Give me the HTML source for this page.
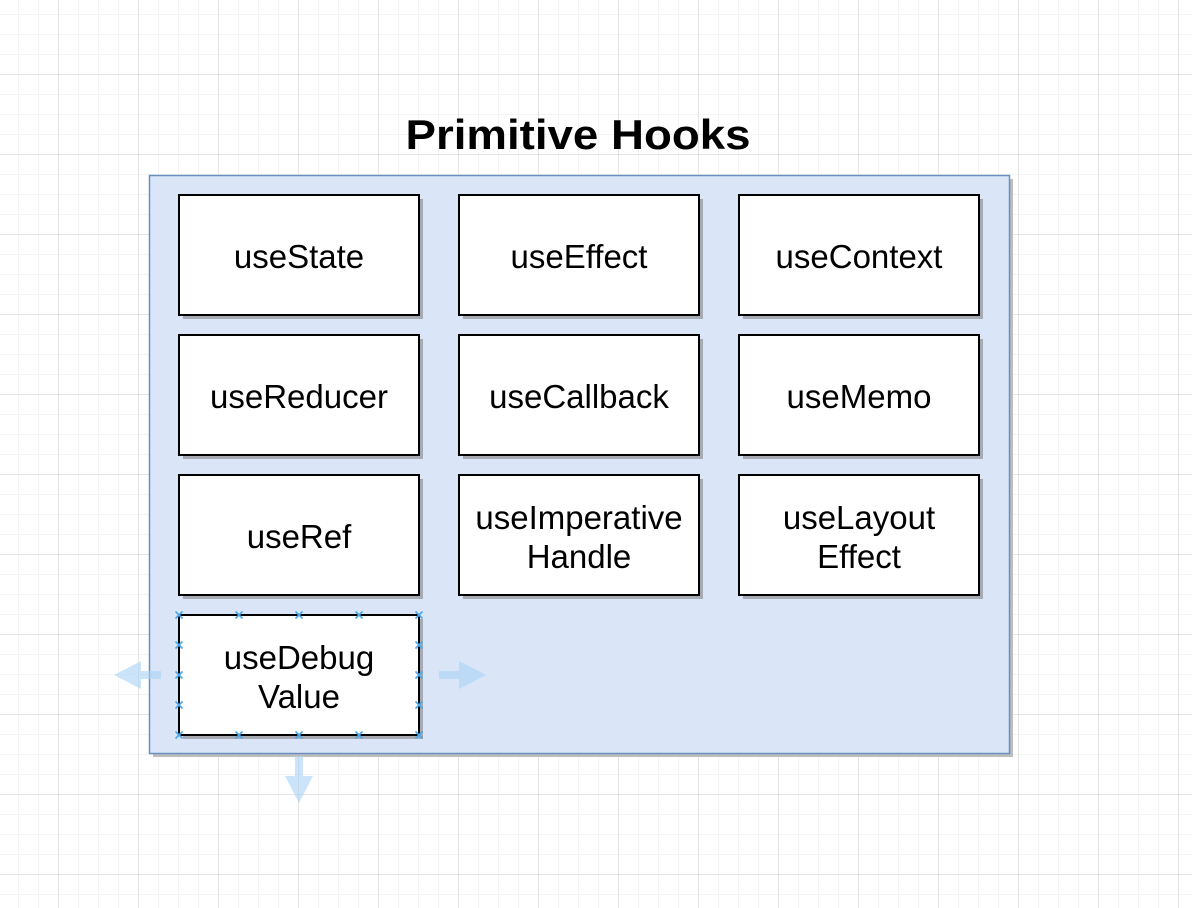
<!DOCTYPE html>
<html><head><meta charset="utf-8"><style>
html,body{margin:0;padding:0;background:#fff;}
svg{display:block;}
text{font-family:"Liberation Sans",Arial,sans-serif;}
</style></head><body>
<svg width="1192" height="908" viewBox="0 0 1192 908" xmlns="http://www.w3.org/2000/svg">
<defs>
<pattern id="minor" x="18" y="14" width="20" height="20" patternUnits="userSpaceOnUse">
<path d="M0 0H20M0 0V20" stroke="#f0f0f0" stroke-width="1.5" fill="none"/>
</pattern>
<pattern id="major" x="58" y="74" width="80" height="80" patternUnits="userSpaceOnUse">
<path d="M0 0H80M0 0V80" stroke="#d0d0d0" stroke-width="1" fill="none"/>
</pattern>
</defs>
<rect width="1192" height="908" fill="url(#minor)"/>
<rect width="1192" height="908" fill="url(#major)"/>

<text x="578" y="149" text-anchor="middle" font-size="42" font-weight="bold" textLength="345" lengthAdjust="spacingAndGlyphs">Primitive Hooks</text>

<rect x="153" y="179" width="860" height="578" fill="#bdbdbd"/>
<rect x="149.5" y="175.5" width="860" height="578" fill="#dae6f8" stroke="#6c8ebf" stroke-width="1.5"/>

<g fill="#a6aab3">
<rect x="183" y="199" width="240" height="120"/><rect x="463" y="199" width="240" height="120"/><rect x="743" y="199" width="240" height="120"/>
<rect x="183" y="339" width="240" height="120"/><rect x="463" y="339" width="240" height="120"/><rect x="743" y="339" width="240" height="120"/>
<rect x="183" y="479" width="240" height="120"/><rect x="463" y="479" width="240" height="120"/><rect x="743" y="479" width="240" height="120"/>
<rect x="183" y="619" width="240" height="120"/>
</g>
<g fill="#fff" stroke="#000" stroke-width="2">
<rect x="179" y="195" width="240" height="120"/><rect x="459" y="195" width="240" height="120"/><rect x="739" y="195" width="240" height="120"/>
<rect x="179" y="335" width="240" height="120"/><rect x="459" y="335" width="240" height="120"/><rect x="739" y="335" width="240" height="120"/>
<rect x="179" y="475" width="240" height="120"/><rect x="459" y="475" width="240" height="120"/><rect x="739" y="475" width="240" height="120"/>
<rect x="179" y="615" width="240" height="120"/>
</g>
<g font-size="33" text-anchor="middle" fill="#000">
<text x="299" y="268">useState</text>
<text x="579" y="268">useEffect</text>
<text x="859" y="268">useContext</text>
<text x="299" y="408">useReducer</text>
<text x="579" y="408">useCallback</text>
<text x="859" y="408">useMemo</text>
<text x="299" y="548">useRef</text>
<text x="579" y="529">useImperative</text>
<text x="579" y="568">Handle</text>
<text x="859" y="529">useLayout</text>
<text x="859" y="568">Effect</text>
<text x="299" y="669">useDebug</text>
<text x="299" y="708">Value</text>
</g>

<g stroke="#4aa8e8" stroke-width="1.6">
<path d="M-3.5 -3.5L3.5 3.5M-3.5 3.5L3.5 -3.5" transform="translate(179,615)"/>
<path d="M-3.5 -3.5L3.5 3.5M-3.5 3.5L3.5 -3.5" transform="translate(239,615)"/>
<path d="M-3.5 -3.5L3.5 3.5M-3.5 3.5L3.5 -3.5" transform="translate(299,615)"/>
<path d="M-3.5 -3.5L3.5 3.5M-3.5 3.5L3.5 -3.5" transform="translate(359,615)"/>
<path d="M-3.5 -3.5L3.5 3.5M-3.5 3.5L3.5 -3.5" transform="translate(419,615)"/>
<path d="M-3.5 -3.5L3.5 3.5M-3.5 3.5L3.5 -3.5" transform="translate(179,735)"/>
<path d="M-3.5 -3.5L3.5 3.5M-3.5 3.5L3.5 -3.5" transform="translate(239,735)"/>
<path d="M-3.5 -3.5L3.5 3.5M-3.5 3.5L3.5 -3.5" transform="translate(299,735)"/>
<path d="M-3.5 -3.5L3.5 3.5M-3.5 3.5L3.5 -3.5" transform="translate(359,735)"/>
<path d="M-3.5 -3.5L3.5 3.5M-3.5 3.5L3.5 -3.5" transform="translate(419,735)"/>
<path d="M-3.5 -3.5L3.5 3.5M-3.5 3.5L3.5 -3.5" transform="translate(179,645)"/>
<path d="M-3.5 -3.5L3.5 3.5M-3.5 3.5L3.5 -3.5" transform="translate(179,675)"/>
<path d="M-3.5 -3.5L3.5 3.5M-3.5 3.5L3.5 -3.5" transform="translate(179,705)"/>
<path d="M-3.5 -3.5L3.5 3.5M-3.5 3.5L3.5 -3.5" transform="translate(419,645)"/>
<path d="M-3.5 -3.5L3.5 3.5M-3.5 3.5L3.5 -3.5" transform="translate(419,675)"/>
<path d="M-3.5 -3.5L3.5 3.5M-3.5 3.5L3.5 -3.5" transform="translate(419,705)"/>
</g>

<g fill="#a9d2f5" fill-opacity="0.6">
<polygon points="161,671 141,671 141,661 114,675 141,689 141,679 161,679"/>
<polygon points="439,671 459,671 459,661 486,675 459,689 459,679 439,679"/>
<polygon points="295,756 303,756 303,776 313,776 299,803 285,776 295,776"/>
</g>
</svg>
</body></html>
